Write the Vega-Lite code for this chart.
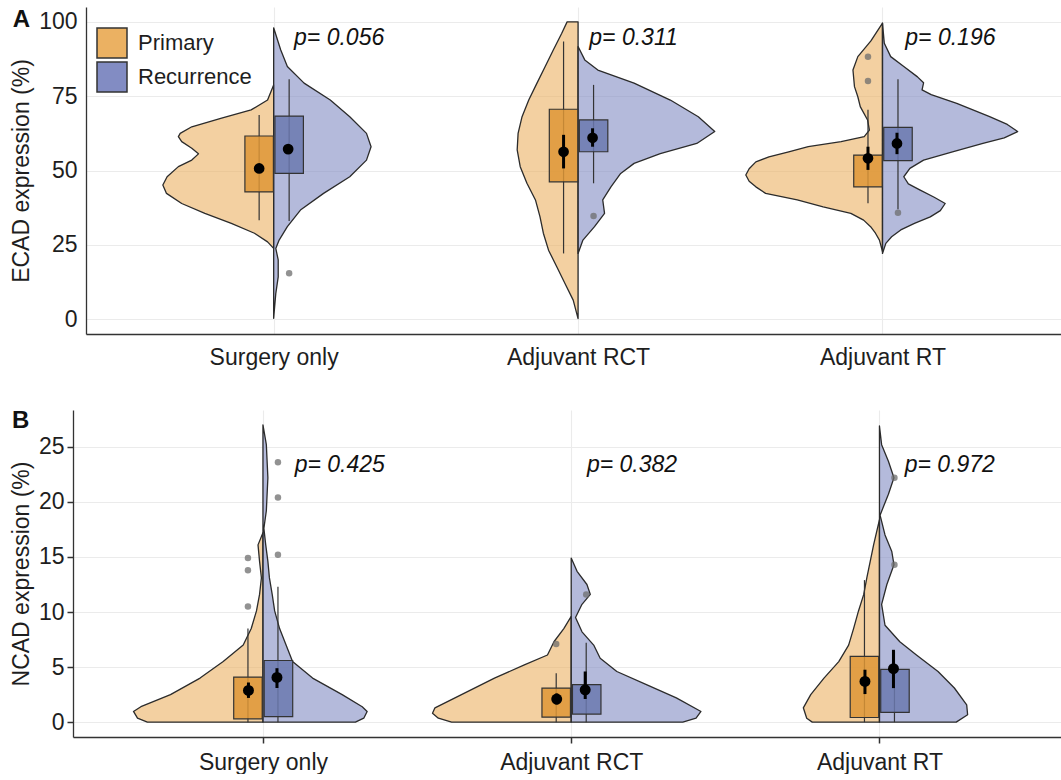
{
  "$schema": "https://vega.github.io/schema/vega-lite/v6.json",
  "padding": {"left": 10, "top": 7, "right": 0, "bottom": 0},
  "spacing": 40,
  "config": {
    "view": {"stroke": null},
    "font": "Liberation Sans",
    "axis": {
      "labelFont": "Liberation Sans", "labelFontSize": 23, "labelColor": "#1e1e1e",
      "titleFont": "Liberation Sans", "titleFontSize": 23, "titleFontWeight": "normal", "titleColor": "#1e1e1e",
      "gridColor": "#EBEBEB", "gridWidth": 1.1, "domainColor": "#333333", "domainWidth": 1.3,
      "tickColor": "#333333", "tickSize": 6, "tickWidth": 1.5, "labelPadding": 3, "titlePadding": 5
    }
  },
  "datasets": {
    "vA": [
      {"g":1,"s":"Primary","v":78.8,"x":1.0},{"g":1,"s":"Primary","v":73.7,"x":0.98},{"g":1,"s":"Primary","v":70.4,"x":0.926},{"g":1,"s":"Primary","v":67.6,"x":0.829},{"g":1,"s":"Primary","v":64.7,"x":0.731},{"g":1,"s":"Primary","v":62.5,"x":0.693},{"g":1,"s":"Primary","v":61.4,"x":0.687},{"g":1,"s":"Primary","v":59.7,"x":0.698},{"g":1,"s":"Primary","v":57.5,"x":0.731},{"g":1,"s":"Primary","v":55.6,"x":0.753},{"g":1,"s":"Primary","v":53.5,"x":0.731},{"g":1,"s":"Primary","v":51.3,"x":0.687},{"g":1,"s":"Primary","v":47.9,"x":0.65},{"g":1,"s":"Primary","v":45.1,"x":0.636},{"g":1,"s":"Primary","v":42.3,"x":0.648},{"g":1,"s":"Primary","v":38.9,"x":0.698},{"g":1,"s":"Primary","v":35.6,"x":0.774},{"g":1,"s":"Primary","v":32.2,"x":0.861},{"g":1,"s":"Primary","v":28.9,"x":0.937},{"g":1,"s":"Primary","v":26.0,"x":0.98},{"g":1,"s":"Primary","v":23.8,"x":1.0},
      {"g":1,"s":"Recurrence","v":98,"x":1.0},{"g":1,"s":"Recurrence","v":90.6,"x":1.023},{"g":1,"s":"Recurrence","v":85,"x":1.045},{"g":1,"s":"Recurrence","v":79.4,"x":1.1},{"g":1,"s":"Recurrence","v":73.7,"x":1.186},{"g":1,"s":"Recurrence","v":68.1,"x":1.25},{"g":1,"s":"Recurrence","v":62.5,"x":1.305},{"g":1,"s":"Recurrence","v":58,"x":1.32},{"g":1,"s":"Recurrence","v":53.5,"x":1.305},{"g":1,"s":"Recurrence","v":47.9,"x":1.25},{"g":1,"s":"Recurrence","v":42.3,"x":1.164},{"g":1,"s":"Recurrence","v":36.7,"x":1.088},{"g":1,"s":"Recurrence","v":31.1,"x":1.045},{"g":1,"s":"Recurrence","v":26.6,"x":1.018},{"g":1,"s":"Recurrence","v":23.8,"x":1.007},{"g":1,"s":"Recurrence","v":19.9,"x":1.015},{"g":1,"s":"Recurrence","v":14.2,"x":1.015},{"g":1,"s":"Recurrence","v":8.6,"x":1.007},{"g":1,"s":"Recurrence","v":0.3,"x":1.0},
      {"g":2,"s":"Primary","v":100,"x":1.964},{"g":2,"s":"Primary","v":96.1,"x":1.946},{"g":2,"s":"Primary","v":90.6,"x":1.919},{"g":2,"s":"Primary","v":85,"x":1.892},{"g":2,"s":"Primary","v":79.4,"x":1.865},{"g":2,"s":"Primary","v":73.7,"x":1.838},{"g":2,"s":"Primary","v":68.1,"x":1.816},{"g":2,"s":"Primary","v":62.5,"x":1.803},{"g":2,"s":"Primary","v":56.9,"x":1.8},{"g":2,"s":"Primary","v":51.3,"x":1.81},{"g":2,"s":"Primary","v":45.7,"x":1.832},{"g":2,"s":"Primary","v":40.1,"x":1.86},{"g":2,"s":"Primary","v":34.4,"x":1.875},{"g":2,"s":"Primary","v":28.9,"x":1.886},{"g":2,"s":"Primary","v":23.2,"x":1.903},{"g":2,"s":"Primary","v":17.6,"x":1.93},{"g":2,"s":"Primary","v":12,"x":1.957},{"g":2,"s":"Primary","v":6.4,"x":1.984},{"g":2,"s":"Primary","v":0.2,"x":2.0},
      {"g":2,"s":"Recurrence","v":91.7,"x":2.0},{"g":2,"s":"Recurrence","v":87.2,"x":2.022},{"g":2,"s":"Recurrence","v":83.8,"x":2.065},{"g":2,"s":"Recurrence","v":79.4,"x":2.184},{"g":2,"s":"Recurrence","v":73.7,"x":2.303},{"g":2,"s":"Recurrence","v":68.1,"x":2.395},{"g":2,"s":"Recurrence","v":63.1,"x":2.449},{"g":2,"s":"Recurrence","v":59.1,"x":2.39},{"g":2,"s":"Recurrence","v":55.7,"x":2.27},{"g":2,"s":"Recurrence","v":52.4,"x":2.184},{"g":2,"s":"Recurrence","v":49,"x":2.14},{"g":2,"s":"Recurrence","v":44.5,"x":2.108},{"g":2,"s":"Recurrence","v":40.1,"x":2.081},{"g":2,"s":"Recurrence","v":35.6,"x":2.087},{"g":2,"s":"Recurrence","v":31.1,"x":2.054},{"g":2,"s":"Recurrence","v":26.6,"x":2.016},{"g":2,"s":"Recurrence","v":22.1,"x":2.0},
      {"g":3,"s":"Primary","v":99.6,"x":3.0},{"g":3,"s":"Primary","v":93.6,"x":2.962},{"g":3,"s":"Primary","v":88.3,"x":2.919},{"g":3,"s":"Primary","v":83.8,"x":2.903},{"g":3,"s":"Primary","v":78.2,"x":2.908},{"g":3,"s":"Primary","v":74.8,"x":2.919},{"g":3,"s":"Primary","v":71.5,"x":2.927},{"g":3,"s":"Primary","v":67,"x":2.951},{"g":3,"s":"Primary","v":63.6,"x":2.957},{"g":3,"s":"Primary","v":61.4,"x":2.94},{"g":3,"s":"Primary","v":59.7,"x":2.864},{"g":3,"s":"Primary","v":58,"x":2.756},{"g":3,"s":"Primary","v":56.3,"x":2.692},{"g":3,"s":"Primary","v":54.6,"x":2.627},{"g":3,"s":"Primary","v":52.9,"x":2.584},{"g":3,"s":"Primary","v":50.6,"x":2.562},{"g":3,"s":"Primary","v":48.5,"x":2.551},{"g":3,"s":"Primary","v":46.4,"x":2.562},{"g":3,"s":"Primary","v":44.5,"x":2.584},{"g":3,"s":"Primary","v":42.3,"x":2.616},{"g":3,"s":"Primary","v":40.1,"x":2.72},{"g":3,"s":"Primary","v":37.8,"x":2.805},{"g":3,"s":"Primary","v":35.6,"x":2.896},{"g":3,"s":"Primary","v":33.3,"x":2.938},{"g":3,"s":"Primary","v":31.1,"x":2.961},{"g":3,"s":"Primary","v":28.9,"x":2.977},{"g":3,"s":"Primary","v":26.6,"x":2.99},{"g":3,"s":"Primary","v":22.7,"x":3.0},
      {"g":3,"s":"Recurrence","v":99.6,"x":3.0},{"g":3,"s":"Recurrence","v":92.8,"x":3.006},{"g":3,"s":"Recurrence","v":88.3,"x":3.027},{"g":3,"s":"Recurrence","v":85,"x":3.07},{"g":3,"s":"Recurrence","v":81.5,"x":3.115},{"g":3,"s":"Recurrence","v":79.5,"x":3.135},{"g":3,"s":"Recurrence","v":77.1,"x":3.13},{"g":3,"s":"Recurrence","v":75.5,"x":3.16},{"g":3,"s":"Recurrence","v":72.6,"x":3.244},{"g":3,"s":"Recurrence","v":68.1,"x":3.352},{"g":3,"s":"Recurrence","v":65.5,"x":3.41},{"g":3,"s":"Recurrence","v":63.1,"x":3.444},{"g":3,"s":"Recurrence","v":61,"x":3.4},{"g":3,"s":"Recurrence","v":59.1,"x":3.33},{"g":3,"s":"Recurrence","v":56.3,"x":3.23},{"g":3,"s":"Recurrence","v":53.5,"x":3.135},{"g":3,"s":"Recurrence","v":50.7,"x":3.09},{"g":3,"s":"Recurrence","v":47.9,"x":3.07},{"g":3,"s":"Recurrence","v":45.5,"x":3.085},{"g":3,"s":"Recurrence","v":43.4,"x":3.124},{"g":3,"s":"Recurrence","v":41,"x":3.17},{"g":3,"s":"Recurrence","v":38.9,"x":3.206},{"g":3,"s":"Recurrence","v":36.5,"x":3.19},{"g":3,"s":"Recurrence","v":34.4,"x":3.157},{"g":3,"s":"Recurrence","v":32.2,"x":3.105},{"g":3,"s":"Recurrence","v":30,"x":3.06},{"g":3,"s":"Recurrence","v":27.7,"x":3.03},{"g":3,"s":"Recurrence","v":25.5,"x":3.011},{"g":3,"s":"Recurrence","v":22.1,"x":3.0}
    ],
    "bA": [
      {"g":1,"s":"Primary","q1":42.8,"q3":61.6,"lo":33.3,"hi":68.7,"mean":50.7,"selo":49.3,"sehi":52.1},
      {"g":1,"s":"Recurrence","q1":49,"q3":68.3,"lo":33,"hi":80.7,"mean":57.2,"selo":55.8,"sehi":58.6},
      {"g":2,"s":"Primary","q1":46.2,"q3":70.6,"lo":22.1,"hi":93.4,"mean":56.3,"selo":50.7,"sehi":62},
      {"g":2,"s":"Recurrence","q1":56.3,"q3":67,"lo":45.7,"hi":78.8,"mean":61,"selo":58,"sehi":64.2},
      {"g":3,"s":"Primary","q1":44.5,"q3":55.2,"lo":39,"hi":70.4,"mean":54.1,"selo":50.2,"sehi":58},
      {"g":3,"s":"Recurrence","q1":53.3,"q3":64.5,"lo":37,"hi":80.7,"mean":59.1,"selo":55.5,"sehi":62.7}
    ],
    "oA": [
      {"g":1,"s":"Recurrence","v":15.4},
      {"g":2,"s":"Recurrence","v":34.7},
      {"g":3,"s":"Primary","v":88.3},
      {"g":3,"s":"Primary","v":80.1},
      {"g":3,"s":"Recurrence","v":35.8}
    ],
    "pA": [
      {"x":1.067,"v":92.3,"label":"p= 0.056"},
      {"x":2.037,"v":92.3,"label":"p= 0.311"},
      {"x":3.075,"v":92.3,"label":"p= 0.196"}
    ],
    "tA": [{"x":0.143,"v":98.3,"label":"A"}],
    "vB": [
      {"g":1,"s":"Primary","v":17.2,"x":1.0},{"g":1,"s":"Primary","v":16.1,"x":0.984},{"g":1,"s":"Primary","v":14.6,"x":0.989},{"g":1,"s":"Primary","v":13.1,"x":0.995},{"g":1,"s":"Primary","v":11.6,"x":0.989},{"g":1,"s":"Primary","v":10.1,"x":0.979},{"g":1,"s":"Primary","v":8.5,"x":0.962},{"g":1,"s":"Primary","v":7.0,"x":0.936},{"g":1,"s":"Primary","v":5.5,"x":0.871},{"g":1,"s":"Primary","v":4.0,"x":0.796},{"g":1,"s":"Primary","v":2.5,"x":0.7},{"g":1,"s":"Primary","v":1.4,"x":0.604},{"g":1,"s":"Primary","v":0.97,"x":0.58},{"g":1,"s":"Primary","v":0.36,"x":0.593},{"g":1,"s":"Primary","v":0.0,"x":0.625},
      {"g":1,"s":"Recurrence","v":27,"x":1.0},{"g":1,"s":"Recurrence","v":25.2,"x":1.011},{"g":1,"s":"Recurrence","v":22.2,"x":1.016},{"g":1,"s":"Recurrence","v":19.2,"x":1.011},{"g":1,"s":"Recurrence","v":17.6,"x":1.003},{"g":1,"s":"Recurrence","v":16.1,"x":1.009},{"g":1,"s":"Recurrence","v":14.6,"x":1.016},{"g":1,"s":"Recurrence","v":13.1,"x":1.021},{"g":1,"s":"Recurrence","v":11.6,"x":1.03},{"g":1,"s":"Recurrence","v":10.1,"x":1.038},{"g":1,"s":"Recurrence","v":8.5,"x":1.054},{"g":1,"s":"Recurrence","v":7.0,"x":1.075},{"g":1,"s":"Recurrence","v":5.5,"x":1.096},{"g":1,"s":"Recurrence","v":4.0,"x":1.161},{"g":1,"s":"Recurrence","v":2.5,"x":1.257},{"g":1,"s":"Recurrence","v":1.4,"x":1.322},{"g":1,"s":"Recurrence","v":0.97,"x":1.338},{"g":1,"s":"Recurrence","v":0.36,"x":1.327},{"g":1,"s":"Recurrence","v":0,"x":1.3},
      {"g":2,"s":"Primary","v":9.6,"x":2.0},{"g":2,"s":"Primary","v":8.5,"x":1.976},{"g":2,"s":"Primary","v":7.3,"x":1.944},{"g":2,"s":"Primary","v":6.1,"x":1.923},{"g":2,"s":"Primary","v":5.2,"x":1.848},{"g":2,"s":"Primary","v":4.0,"x":1.751},{"g":2,"s":"Primary","v":2.5,"x":1.644},{"g":2,"s":"Primary","v":1.3,"x":1.558},{"g":2,"s":"Primary","v":0.8,"x":1.55},{"g":2,"s":"Primary","v":0.36,"x":1.569},{"g":2,"s":"Primary","v":0,"x":1.612},
      {"g":2,"s":"Recurrence","v":14.9,"x":2.0},{"g":2,"s":"Recurrence","v":13.7,"x":2.019},{"g":2,"s":"Recurrence","v":12.5,"x":2.051},{"g":2,"s":"Recurrence","v":11.6,"x":2.062},{"g":2,"s":"Recurrence","v":10.7,"x":2.035},{"g":2,"s":"Recurrence","v":9.5,"x":2.014},{"g":2,"s":"Recurrence","v":8.2,"x":2.035},{"g":2,"s":"Recurrence","v":7.0,"x":2.073},{"g":2,"s":"Recurrence","v":5.8,"x":2.094},{"g":2,"s":"Recurrence","v":4.6,"x":2.148},{"g":2,"s":"Recurrence","v":3.4,"x":2.244},{"g":2,"s":"Recurrence","v":2.2,"x":2.341},{"g":2,"s":"Recurrence","v":0.97,"x":2.421},{"g":2,"s":"Recurrence","v":0.36,"x":2.405},{"g":2,"s":"Recurrence","v":0,"x":2.362},
      {"g":3,"s":"Primary","v":18.4,"x":3.0},{"g":3,"s":"Primary","v":16.1,"x":2.981},{"g":3,"s":"Primary","v":14.6,"x":2.97},{"g":3,"s":"Primary","v":13.1,"x":2.959},{"g":3,"s":"Primary","v":11.6,"x":2.949},{"g":3,"s":"Primary","v":10.1,"x":2.932},{"g":3,"s":"Primary","v":8.5,"x":2.916},{"g":3,"s":"Primary","v":7.0,"x":2.9},{"g":3,"s":"Primary","v":5.5,"x":2.868},{"g":3,"s":"Primary","v":4.0,"x":2.82},{"g":3,"s":"Primary","v":2.5,"x":2.777},{"g":3,"s":"Primary","v":1.3,"x":2.753},{"g":3,"s":"Primary","v":0.36,"x":2.764},{"g":3,"s":"Primary","v":0,"x":2.782},
      {"g":3,"s":"Recurrence","v":26.9,"x":3.0},{"g":3,"s":"Recurrence","v":25.2,"x":3.007},{"g":3,"s":"Recurrence","v":23.7,"x":3.029},{"g":3,"s":"Recurrence","v":22.2,"x":3.047},{"g":3,"s":"Recurrence","v":20.7,"x":3.029},{"g":3,"s":"Recurrence","v":18.8,"x":3.002},{"g":3,"s":"Recurrence","v":17.0,"x":3.018},{"g":3,"s":"Recurrence","v":15.5,"x":3.04},{"g":3,"s":"Recurrence","v":14.3,"x":3.047},{"g":3,"s":"Recurrence","v":12.5,"x":3.024},{"g":3,"s":"Recurrence","v":10.7,"x":3.007},{"g":3,"s":"Recurrence","v":8.8,"x":3.018},{"g":3,"s":"Recurrence","v":7.3,"x":3.066},{"g":3,"s":"Recurrence","v":6.1,"x":3.12},{"g":3,"s":"Recurrence","v":4.6,"x":3.19},{"g":3,"s":"Recurrence","v":3.1,"x":3.243},{"g":3,"s":"Recurrence","v":1.57,"x":3.283},{"g":3,"s":"Recurrence","v":0.67,"x":3.286},{"g":3,"s":"Recurrence","v":0,"x":3.249}
    ],
    "bB": [
      {"g":1,"s":"Primary","q1":0.3,"q3":4.09,"lo":0,"hi":8.5,"mean":2.88,"selo":2.2,"sehi":3.6},
      {"g":1,"s":"Recurrence","q1":0.5,"q3":5.6,"lo":0,"hi":12.3,"mean":4.06,"selo":3.1,"sehi":4.9},
      {"g":2,"s":"Primary","q1":0.45,"q3":3.09,"lo":0,"hi":4.45,"mean":2.1,"selo":1.6,"sehi":2.6},
      {"g":2,"s":"Recurrence","q1":0.73,"q3":3.4,"lo":0,"hi":7.2,"mean":2.94,"selo":2.1,"sehi":4.6},
      {"g":3,"s":"Primary","q1":0.42,"q3":5.97,"lo":0,"hi":12.9,"mean":3.7,"selo":2.55,"sehi":4.76},
      {"g":3,"s":"Recurrence","q1":0.88,"q3":4.8,"lo":0,"hi":6.5,"mean":4.85,"selo":3.09,"sehi":6.57}
    ],
    "oB": [
      {"g":1,"s":"Primary","v":14.9},{"g":1,"s":"Primary","v":13.8},{"g":1,"s":"Primary","v":10.5},
      {"g":1,"s":"Recurrence","v":23.6},{"g":1,"s":"Recurrence","v":20.4},{"g":1,"s":"Recurrence","v":15.2},
      {"g":2,"s":"Primary","v":7.1},
      {"g":2,"s":"Recurrence","v":11.6},
      {"g":3,"s":"Recurrence","v":22.2},{"g":3,"s":"Recurrence","v":14.3}
    ],
    "pB": [
      {"x":1.103,"v":22.7,"label":"p= 0.425"},
      {"x":2.051,"v":22.7,"label":"p= 0.382"},
      {"x":3.082,"v":22.7,"label":"p= 0.972"}
    ],
    "tB": [{"x":0.186,"v":26.7,"label":"B"}]
  },
  "vconcat": [
    {
      "width": 975,
      "height": 327,
      "layer": [
        {
          "data": {"name": "vA"},
          "mark": {"type": "area", "orient": "horizontal", "fillOpacity": 0.6, "stroke": "#2b2b2b", "strokeWidth": 1.3, "strokeJoin": "round"},
          "encoding": {
            "y": {"field": "v", "type": "quantitative", "scale": {"domain": [-5, 105], "nice": false, "zero": false},
                  "axis": {"title": "ECAD expression (%)", "values": [0, 25, 50, 75, 100], "tickColor": "transparent"}},
            "x": {"field": "x", "type": "quantitative", "stack": null, "scale": {"domain": [0.4, 3.57], "nice": false, "zero": false},
                  "axis": {"title": null, "values": [1, 2, 3], "tickColor": "transparent", "labelPadding": 6,
                           "labelExpr": "datum.value == 1 ? 'Surgery only' : datum.value == 2 ? 'Adjuvant RCT' : 'Adjuvant RT'"}},
            "x2": {"field": "g"},
            "fill": {"field": "s", "type": "nominal", "scale": {"domain": ["Primary", "Recurrence"], "range": ["#EBB162", "#828CC3"]},
                     "legend": {"title": null, "orient": "none", "legendX": 10, "legendY": 20, "padding": 0, "symbolType": "square", "symbolSize": 900,
                                "symbolStrokeColor": "#333333", "symbolStrokeWidth": 1.5, "symbolOpacity": 1, "labelFontSize": 22, "labelColor": "#1e1e1e",
                                "labelOffset": 10, "rowPadding": -5}},
            "detail": {"field": "g"}
          }
        },
        {
          "data": {"name": "bA"}, "transform": [{"filter": "datum.s == 'Primary'"}],
          "mark": {"type": "rule", "xOffset": -14.5, "stroke": "#333333", "strokeWidth": 1.2},
          "encoding": {"x": {"field": "g", "type": "quantitative"}, "y": {"field": "lo", "type": "quantitative"}, "y2": {"field": "hi"}}
        },
        {
          "data": {"name": "bA"}, "transform": [{"filter": "datum.s == 'Recurrence'"}],
          "mark": {"type": "rule", "xOffset": 15.5, "stroke": "#333333", "strokeWidth": 1.2},
          "encoding": {"x": {"field": "g", "type": "quantitative"}, "y": {"field": "lo", "type": "quantitative"}, "y2": {"field": "hi"}}
        },
        {
          "data": {"name": "bA"}, "transform": [{"filter": "datum.s == 'Primary'"}],
          "mark": {"type": "bar", "orient": "vertical", "width": 28.5, "xOffset": -14.5, "fill": "#DE9736", "fillOpacity": 0.85, "stroke": "#333333", "strokeWidth": 1.2},
          "encoding": {"x": {"field": "g", "type": "quantitative"}, "y": {"field": "q1", "type": "quantitative"}, "y2": {"field": "q3"}}
        },
        {
          "data": {"name": "bA"}, "transform": [{"filter": "datum.s == 'Recurrence'"}],
          "mark": {"type": "bar", "orient": "vertical", "width": 28.5, "xOffset": 15.5, "fill": "#6B79AF", "fillOpacity": 0.85, "stroke": "#333333", "strokeWidth": 1.2},
          "encoding": {"x": {"field": "g", "type": "quantitative"}, "y": {"field": "q1", "type": "quantitative"}, "y2": {"field": "q3"}}
        },
        {
          "data": {"name": "oA"}, "transform": [{"filter": "datum.s == 'Primary'"}],
          "mark": {"type": "circle", "xOffset": -14.5, "size": 42, "fill": "#6e6e6e", "opacity": 0.75},
          "encoding": {"x": {"field": "g", "type": "quantitative"}, "y": {"field": "v", "type": "quantitative"}}
        },
        {
          "data": {"name": "oA"}, "transform": [{"filter": "datum.s == 'Recurrence'"}],
          "mark": {"type": "circle", "xOffset": 15.5, "size": 42, "fill": "#6e6e6e", "opacity": 0.75},
          "encoding": {"x": {"field": "g", "type": "quantitative"}, "y": {"field": "v", "type": "quantitative"}}
        },
        {
          "data": {"name": "bA"}, "transform": [{"filter": "datum.s == 'Primary'"}],
          "mark": {"type": "rule", "xOffset": -14.5, "stroke": "#000000", "strokeWidth": 3},
          "encoding": {"x": {"field": "g", "type": "quantitative"}, "y": {"field": "selo", "type": "quantitative"}, "y2": {"field": "sehi"}}
        },
        {
          "data": {"name": "bA"}, "transform": [{"filter": "datum.s == 'Recurrence'"}],
          "mark": {"type": "rule", "xOffset": 14.5, "stroke": "#000000", "strokeWidth": 3},
          "encoding": {"x": {"field": "g", "type": "quantitative"}, "y": {"field": "selo", "type": "quantitative"}, "y2": {"field": "sehi"}}
        },
        {
          "data": {"name": "bA"}, "transform": [{"filter": "datum.s == 'Primary'"}],
          "mark": {"type": "circle", "xOffset": -14.5, "size": 115, "fill": "#000000", "opacity": 1},
          "encoding": {"x": {"field": "g", "type": "quantitative"}, "y": {"field": "mean", "type": "quantitative"}}
        },
        {
          "data": {"name": "bA"}, "transform": [{"filter": "datum.s == 'Recurrence'"}],
          "mark": {"type": "circle", "xOffset": 14.5, "size": 115, "fill": "#000000", "opacity": 1},
          "encoding": {"x": {"field": "g", "type": "quantitative"}, "y": {"field": "mean", "type": "quantitative"}}
        },
        {
          "data": {"name": "pA"},
          "mark": {"type": "text", "align": "left", "baseline": "alphabetic", "fontStyle": "italic", "fontSize": 23, "font": "Liberation Sans", "color": "#111111"},
          "encoding": {"x": {"field": "x", "type": "quantitative"}, "y": {"field": "v", "type": "quantitative"}, "text": {"field": "label"}}
        },
        {
          "data": {"name": "tA"},
          "mark": {"type": "text", "align": "left", "baseline": "alphabetic", "fontWeight": "bold", "fontSize": 24, "font": "Liberation Sans", "color": "#111111"},
          "encoding": {"x": {"field": "x", "type": "quantitative"}, "y": {"field": "v", "type": "quantitative"}, "text": {"field": "label"}}
        }
      ]
    },
    {
      "width": 975,
      "height": 327,
      "layer": [
        {
          "data": {"name": "vB"},
          "mark": {"type": "area", "orient": "horizontal", "fillOpacity": 0.6, "stroke": "#2b2b2b", "strokeWidth": 1.3, "strokeJoin": "round"},
          "encoding": {
            "y": {"field": "v", "type": "quantitative", "scale": {"domain": [-1.35, 28.35], "nice": false, "zero": false},
                  "axis": {"title": "NCAD expression (%)", "values": [0, 5, 10, 15, 20, 25], "offset": 13}},
            "x": {"field": "x", "type": "quantitative", "stack": null, "scale": {"domain": [0.4, 3.5727], "range": [-13, 975], "nice": false, "zero": false},
                  "axis": {"title": null, "values": [1, 2, 3], "labelPadding": 8,
                           "labelExpr": "datum.value == 1 ? 'Surgery only' : datum.value == 2 ? 'Adjuvant RCT' : 'Adjuvant RT'"}},
            "x2": {"field": "g"},
            "fill": {"field": "s", "type": "nominal", "scale": {"domain": ["Primary", "Recurrence"], "range": ["#EBB162", "#828CC3"]}, "legend": null},
            "detail": {"field": "g"}
          }
        },
        {
          "data": {"name": "bB"}, "transform": [{"filter": "datum.s == 'Primary'"}],
          "mark": {"type": "rule", "xOffset": -15, "stroke": "#333333", "strokeWidth": 1.2},
          "encoding": {"x": {"field": "g", "type": "quantitative"}, "y": {"field": "lo", "type": "quantitative"}, "y2": {"field": "hi"}}
        },
        {
          "data": {"name": "bB"}, "transform": [{"filter": "datum.s == 'Recurrence'"}],
          "mark": {"type": "rule", "xOffset": 15, "stroke": "#333333", "strokeWidth": 1.2},
          "encoding": {"x": {"field": "g", "type": "quantitative"}, "y": {"field": "lo", "type": "quantitative"}, "y2": {"field": "hi"}}
        },
        {
          "data": {"name": "bB"}, "transform": [{"filter": "datum.s == 'Primary'"}],
          "mark": {"type": "bar", "orient": "vertical", "width": 28.5, "xOffset": -15, "fill": "#DE9736", "fillOpacity": 0.85, "stroke": "#333333", "strokeWidth": 1.2},
          "encoding": {"x": {"field": "g", "type": "quantitative"}, "y": {"field": "q1", "type": "quantitative"}, "y2": {"field": "q3"}}
        },
        {
          "data": {"name": "bB"}, "transform": [{"filter": "datum.s == 'Recurrence'"}],
          "mark": {"type": "bar", "orient": "vertical", "width": 28.5, "xOffset": 15.5, "fill": "#6B79AF", "fillOpacity": 0.85, "stroke": "#333333", "strokeWidth": 1.2},
          "encoding": {"x": {"field": "g", "type": "quantitative"}, "y": {"field": "q1", "type": "quantitative"}, "y2": {"field": "q3"}}
        },
        {
          "data": {"name": "oB"}, "transform": [{"filter": "datum.s == 'Primary'"}],
          "mark": {"type": "circle", "xOffset": -15, "size": 42, "fill": "#6e6e6e", "opacity": 0.75},
          "encoding": {"x": {"field": "g", "type": "quantitative"}, "y": {"field": "v", "type": "quantitative"}}
        },
        {
          "data": {"name": "oB"}, "transform": [{"filter": "datum.s == 'Recurrence'"}],
          "mark": {"type": "circle", "xOffset": 15, "size": 42, "fill": "#6e6e6e", "opacity": 0.75},
          "encoding": {"x": {"field": "g", "type": "quantitative"}, "y": {"field": "v", "type": "quantitative"}}
        },
        {
          "data": {"name": "bB"}, "transform": [{"filter": "datum.s == 'Primary'"}],
          "mark": {"type": "rule", "xOffset": -14.5, "stroke": "#000000", "strokeWidth": 3},
          "encoding": {"x": {"field": "g", "type": "quantitative"}, "y": {"field": "selo", "type": "quantitative"}, "y2": {"field": "sehi"}}
        },
        {
          "data": {"name": "bB"}, "transform": [{"filter": "datum.s == 'Recurrence'"}],
          "mark": {"type": "rule", "xOffset": 14, "stroke": "#000000", "strokeWidth": 3},
          "encoding": {"x": {"field": "g", "type": "quantitative"}, "y": {"field": "selo", "type": "quantitative"}, "y2": {"field": "sehi"}}
        },
        {
          "data": {"name": "bB"}, "transform": [{"filter": "datum.s == 'Primary'"}],
          "mark": {"type": "circle", "xOffset": -14.5, "size": 120, "fill": "#000000", "opacity": 1},
          "encoding": {"x": {"field": "g", "type": "quantitative"}, "y": {"field": "mean", "type": "quantitative"}}
        },
        {
          "data": {"name": "bB"}, "transform": [{"filter": "datum.s == 'Recurrence'"}],
          "mark": {"type": "circle", "xOffset": 14, "size": 120, "fill": "#000000", "opacity": 1},
          "encoding": {"x": {"field": "g", "type": "quantitative"}, "y": {"field": "mean", "type": "quantitative"}}
        },
        {
          "data": {"name": "pB"},
          "mark": {"type": "text", "align": "left", "baseline": "alphabetic", "fontStyle": "italic", "fontSize": 23, "font": "Liberation Sans", "color": "#111111"},
          "encoding": {"x": {"field": "x", "type": "quantitative"}, "y": {"field": "v", "type": "quantitative"}, "text": {"field": "label"}}
        },
        {
          "data": {"name": "tB"},
          "mark": {"type": "text", "align": "left", "baseline": "alphabetic", "fontWeight": "bold", "fontSize": 24, "font": "Liberation Sans", "color": "#111111"},
          "encoding": {"x": {"field": "x", "type": "quantitative"}, "y": {"field": "v", "type": "quantitative"}, "text": {"field": "label"}}
        }
      ]
    }
  ]
}
